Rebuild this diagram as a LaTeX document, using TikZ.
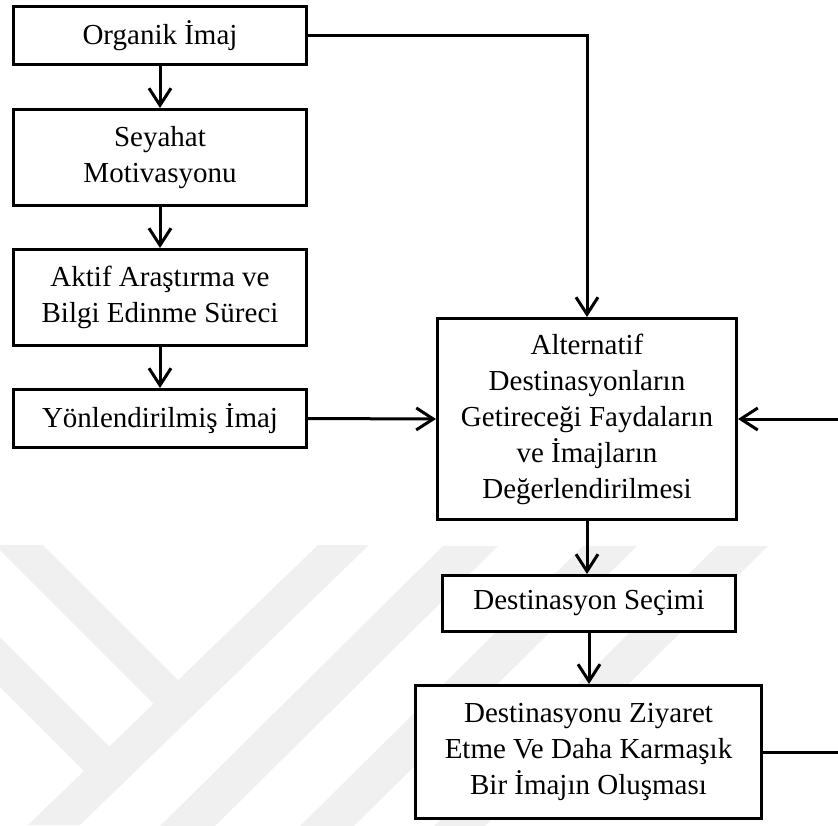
\documentclass[tikz,border=0pt]{standalone}
\usepackage{fontspec}
\setmainfont{Liberation Serif}
\usetikzlibrary{arrows.meta}
\begin{document}
\begin{tikzpicture}[x=1pt,y=-1pt,
  box/.style={draw, line width=3pt, fill=white, align=center, inner sep=0pt,
              font=\fontsize{29}{36}\selectfont},
  flow/.style={line width=3pt, -{Straight Barb[length=17pt,width=22pt]}},
  wm/.style={fill=black!6, draw=none}]
\useasboundingbox (0,0) rectangle (838,825);

% faint background logo
\begin{scope}
  \clip (0,0) rectangle (838,825);
  \fill[wm] (318,545) -- (369,545) -- (80,825) -- (28,825) -- cycle;
  \fill[wm] (-10,545) -- (43,545) -- (190,692) -- (160,710) -- (-10,540) -- cycle;
  \fill[wm] (-10,627) -- (120,757) -- (95,782) -- (-10,677) -- cycle;
  \fill[wm] (443,546) -- (498,546) -- (211,830) -- (156,830) -- cycle;
  \fill[wm] (583,546) -- (637,546) -- (350,830) -- (296,830) -- cycle;
  \fill[wm] (717,546) -- (768,546) -- (481,830) -- (430,830) -- cycle;
\end{scope}

% left column
\node[box, minimum width=293pt, minimum height=58pt] (org) at (160,35.5) {Organik İmaj};
\node[box, minimum width=293pt, minimum height=96pt] (mot) at (160,157.5) {Seyahat\\Motivasyonu};
\node[box, minimum width=293pt, minimum height=96pt] (akt) at (160,297.5) {Aktif Araştırma ve\\Bilgi Edinme Süreci};
\node[box, minimum width=293pt, minimum height=58pt] (yon) at (160,418.5) {Yönlendirilmiş İmaj};

% right column
\node[box, minimum width=299pt, minimum height=201pt] (eval) at (587,419)
  {Alternatif\\Destinasyonların\\Getireceği Faydaların\\ve İmajların\\Değerlendirilmesi};
\node[box, minimum width=293pt, minimum height=56pt] (sec) at (589,603.5) {Destinasyon Seçimi};
\node[box, minimum width=346pt, minimum height=133pt] (vis) at (588.5,752)
  {Destinasyonu Ziyaret\\Etme Ve Daha Karmaşık\\Bir İmajın Oluşması};

\coordinate (ret) at (852,752);

% connectors
\draw[flow] (org) -- (mot);
\draw[flow] (mot) -- (akt);
\draw[flow] (akt) -- (yon);
\draw[flow] (org.east) -| (eval.north);
\draw[flow] (yon.east) -- (eval.west);
\draw[flow] (eval.south) -- (eval.south |- sec.north);
\draw[flow] (sec.south) -- (sec.south |- vis.north);
\draw[flow] (vis.east) -- (ret) |- (eval.east);
\end{tikzpicture}
\end{document}
